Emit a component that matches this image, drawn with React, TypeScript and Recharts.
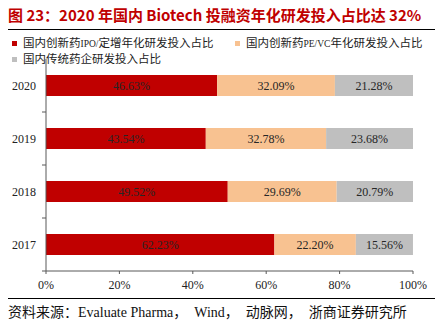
import React from "react";
import { BarChart, Bar, XAxis, YAxis, LabelList } from "recharts";

const years = ["2020", "2019", "2018", "2017"];
const ipoShare = [46.63, 43.54, 49.52, 62.23];
const peVcShare = [32.09, 32.78, 29.69, 22.2];
const pharmaShare = [21.28, 23.68, 20.79, 15.56];
const xTicks = [0, 20, 40, 60, 80, 100];

const seriesNames = [
  "国内创新药IPO/定增年化研发投入占比",
  "国内创新药PE/VC年化研发投入占比",
  "国内传统药企研发投入占比",
];

const data = years.map((year, i) => ({
  year,
  ipo: ipoShare[i],
  pevc: peVcShare[i],
  pharma: pharmaShare[i],
}));

const SERIF = "'Liberation Serif', 'Times New Roman', 'Noto Sans CJK SC', serif";
const RED = "#C00000";
const PEACH = "#F8C291";
const GREY = "#BFBFBF";
const AXIS = "#595959";

const fmtPct = (v: any) => `${Number(v).toFixed(2)}%`;

// latin runs in the legend are set a bit smaller, like the original
const splitLatin = (s: string) =>
  s.split(/([A-Za-z/]+)/).map((part, i) =>
    /[A-Za-z]/.test(part) ? (
      <span key={i} style={{ fontSize: 9.5 }}>
        {part}
      </span>
    ) : (
      part
    ),
  );

function YearTick(props: any) {
  const { x, y, payload } = props;
  const half = payload?.offset ?? 26.5;
  return (
    <g>
      <text
        x={x - 10}
        y={y}
        textAnchor="end"
        dominantBaseline="central"
        fontFamily={SERIF}
        fontSize={12}
        fill="#222"
      >
        {payload.value}
      </text>
      <line x1={x - 4} x2={x} y1={y + half} y2={y + half} stroke={AXIS} strokeWidth={1} />
    </g>
  );
}

export default function App() {
  const legendItem = (color: string, label: string, left: number, top: number) => (
    <div
      style={{
        position: "absolute",
        left,
        top,
        display: "flex",
        alignItems: "center",
        fontFamily: SERIF,
        fontSize: 11.5,
        color: "#222",
        whiteSpace: "nowrap",
        lineHeight: "14px",
      }}
    >
      <span style={{ width: 5, height: 5, background: color, marginRight: 6 }} />
      <span>{splitLatin(label)}</span>
    </div>
  );

  return (
    <div
      style={{
        position: "fixed",
        left: 0,
        top: 0,
        width: 442,
        height: 331,
        background: "#fff",
        overflow: "hidden",
      }}
    >
      <div
        style={{
          position: "absolute",
          left: 8,
          top: 4,
          fontFamily: "'Noto Sans CJK SC', sans-serif",
          fontWeight: 700,
          fontSize: 15,
          lineHeight: "22px",
          color: RED,
          whiteSpace: "nowrap",
        }}
      >
        图 23：2020 年国内 Biotech 投融资年化研发投入占比达 32%
      </div>
      <div style={{ position: "absolute", left: 8, top: 29, width: 427, height: 1, background: "#000" }} />

      <BarChart
        width={442}
        height={331}
        data={data}
        layout="vertical"
        margin={{ top: 59, right: 29, bottom: 30, left: 0 }}
        style={{ position: "absolute", left: 0, top: 0 }}
      >
        <XAxis
          type="number"
          domain={[0, 100]}
          ticks={xTicks}
          tickFormatter={(v: number) => `${v}%`}
          height={30}
          tickSize={3}
          tickMargin={6}
          axisLine={{ stroke: AXIS }}
          tickLine={{ stroke: AXIS }}
          tick={{ fontFamily: SERIF, fontSize: 12, fill: "#222" }}
        />
        <YAxis
          type="category"
          dataKey="year"
          width={46}
          tickSize={0}
          tickMargin={0}
          tickLine={false}
          axisLine={{ stroke: AXIS }}
          tick={<YearTick />}
        />
        <Bar dataKey="ipo" name={seriesNames[0]} stackId="a" fill={RED} barSize={21} isAnimationActive={false}>
          <LabelList dataKey="ipo" position="center" formatter={fmtPct} fontFamily={SERIF} fontSize={12} fill="#262626" />
        </Bar>
        <Bar dataKey="pevc" name={seriesNames[1]} stackId="a" fill={PEACH} barSize={21} isAnimationActive={false}>
          <LabelList dataKey="pevc" position="center" formatter={fmtPct} fontFamily={SERIF} fontSize={12} fill="#262626" />
        </Bar>
        <Bar dataKey="pharma" name={seriesNames[2]} stackId="a" fill={GREY} barSize={21} isAnimationActive={false}>
          <LabelList dataKey="pharma" position="center" formatter={fmtPct} fontFamily={SERIF} fontSize={12} fill="#262626" />
        </Bar>
      </BarChart>

      {legendItem(RED, seriesNames[0], 12, 36)}
      {legendItem(PEACH, seriesNames[1], 235, 36)}
      {legendItem(GREY, seriesNames[2], 12, 52)}

      <div style={{ position: "absolute", left: 8, top: 298, width: 427, height: 1, background: "#000" }} />
      <div
        style={{
          position: "absolute",
          left: 8,
          top: 304,
          fontFamily: SERIF,
          fontSize: 14,
          lineHeight: "18px",
          color: "#111",
          whiteSpace: "nowrap",
        }}
      >
        资料来源：Evaluate Pharma，{"\u2002"}Wind，{"\u2002"}动脉网，{"\u2002"}浙商证券研究所
      </div>
    </div>
  );
}
